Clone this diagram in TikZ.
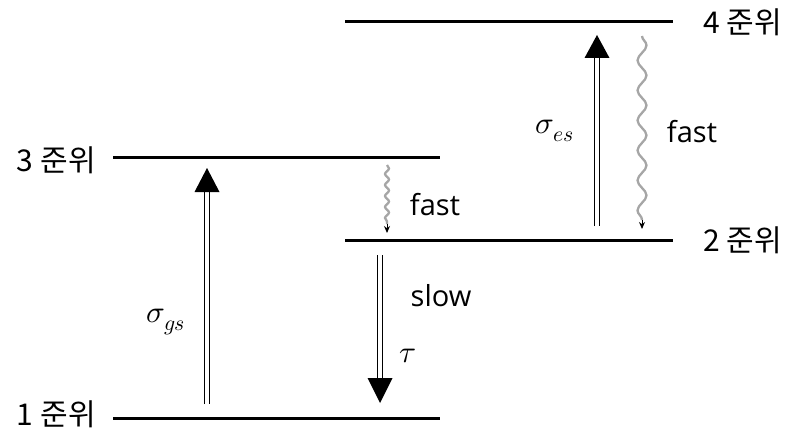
\documentclass[tikz,border=0pt]{standalone}
\usepackage{fontspec}
\usepackage{unicode-math}
\setmainfont{Open Sans}
\newfontfamily\kr{Noto Sans CJK KR}
\usetikzlibrary{decorations.pathmorphing,arrows.meta}
\begin{document}
\begin{tikzpicture}[x=1pt,y=-1pt,
  level/.style={line width=3pt},
  lbl/.style={font=\fontsize{29}{33}\selectfont,inner sep=0pt},
  klbl/.style={font=\kr\fontsize{30}{34}\selectfont,inner sep=0pt},
  mlbl/.style={font=\fontsize{31}{35}\selectfont,inner sep=0pt},
  shaft/.style={draw=black,double=white,double distance=3.6pt,line width=1.6pt},
  head/.style={fill=black},
  wavy/.style={draw=gray!70,line width=2.3pt,decorate},
  wtip/.style={-{Stealth[length=7pt,width=6pt]},black,line width=1pt}]
\useasboundingbox (0,0) rectangle (787,436);
% levels
\coordinate (l4a) at (345,22);  \coordinate (l4b) at (673,22);
\coordinate (l3a) at (113,157); \coordinate (l3b) at (440,157);
\coordinate (l2a) at (345,240); \coordinate (l2b) at (673,240);
\coordinate (l1a) at (113,418); \coordinate (l1b) at (440,418);
\draw[level] (l4a) -- (l4b);
\draw[level] (l3a) -- (l3b);
\draw[level] (l2a) -- (l2b);
\draw[level] (l1a) -- (l1b);
\node[klbl,anchor=west] (t4) at (703,22) {4\hspace{7pt}준위};
\node[klbl,anchor=east] (t3) at (96,160) {3\hspace{7pt}준위};
\node[klbl,anchor=west] (t2) at (703,240) {2\hspace{7pt}준위};
\node[klbl,anchor=east] (t1) at (96,414) {1\hspace{7pt}준위};
% sigma_gs arrow (up)
\coordinate (gsb) at (207,404); \coordinate (gsh) at (207,192); \coordinate (gst) at (207,168);
\draw[shaft] (gsb) -- (gsh);
\fill[head] (gst) -- ([xshift=-12.5pt]gsh) -- ([xshift=12.5pt]gsh) -- cycle;
\node[mlbl] (sgs) at (166,322) {$\sigma_{gs}$};
% sigma_es arrow (up)
\coordinate (esb) at (597,226); \coordinate (esh) at (597,58); \coordinate (est) at (597,35);
\draw[shaft] (esb) -- (esh);
\fill[head] (est) -- ([xshift=-12.5pt]esh) -- ([xshift=12.5pt]esh) -- cycle;
\node[mlbl] (ses) at (555,131) {$\sigma_{es}$};
% slow arrow (down)
\coordinate (slt) at (380,255); \coordinate (slh) at (380,378); \coordinate (slp) at (380,403);
\draw[shaft] (slt) -- (slh);
\fill[head] (slp) -- ([xshift=-12.5pt]slh) -- ([xshift=12.5pt]slh) -- cycle;
\node[lbl] (slow) at (441,296) {slow};
\node[mlbl] (tau) at (408,356) {$\tau$};
% small fast wavy
\coordinate (f1a) at (387,165); \coordinate (f1b) at (387,224); \coordinate (f1c) at (387,233);
\draw[wavy,decoration={snake,segment length=11pt,amplitude=2pt,post length=0pt}] (f1a) -- (f1b);
\draw[wtip] (f1b) -- (f1c);
\node[lbl] (fast1) at (435,205) {fast};
% big fast wavy
\coordinate (f2a) at (642,36); \coordinate (f2b) at (642,220); \coordinate (f2c) at (642,229);
\draw[wavy,decoration={snake,segment length=30pt,amplitude=4.5pt,post length=0pt}] (f2a) -- (f2b);
\draw[wtip] (f2b) -- (f2c);
\node[lbl] (fast2) at (692,132) {fast};
\end{tikzpicture}
\end{document}
